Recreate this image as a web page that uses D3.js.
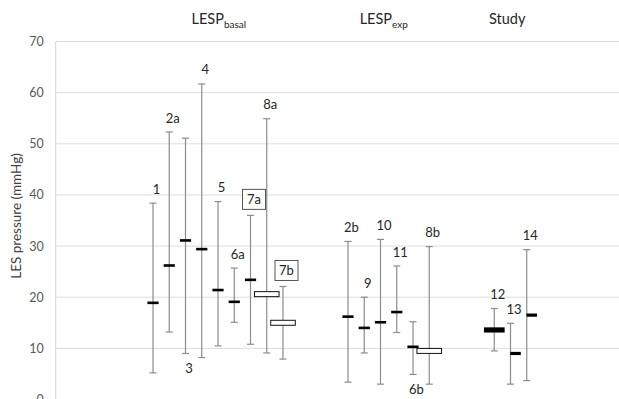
<!DOCTYPE html>
<html><head><meta charset="utf-8">
<script src="https://cdn.jsdelivr.net/npm/d3@7"></script>
<style>
body{margin:0;background:#fff;}
svg{display:block;font-family:Lato,"Open Sans",sans-serif;}
</style></head>
<body><svg id="chart" width="619" height="399"></svg>
<script>
// ---- data ----
const labels  = ["1","2a","3","4","5","6a","7a","8a","7b","2b","9","10","11","6b","8b","12","13","14"];
const slots   = [0,1,2,3,4,5,6,7,8,12,13,14,15,16,17,21,22,23];
const medians = [18.9,26.2,31.1,29.4,21.4,19.1,23.4,20.6,15.0,16.2,14.0,15.1,17.1,10.3,9.5,13.6,9.0,16.5];
const lows    = [5.2,13.2,9.0,8.2,10.5,15.1,10.8,9.1,7.9,3.4,9.1,3.0,13.1,4.9,3.0,9.5,3.0,3.7];
const highs   = [38.4,52.3,51.1,61.7,38.7,25.7,36.0,54.9,22.1,30.9,20.0,31.3,26.1,15.2,29.9,17.8,14.9,29.3];
const groups  = [{name:"LESP",sub:"basal",slot:4.05},{name:"LESP",sub:"exp",slot:14.2},{name:"Study",sub:"",slot:21.8}];
const yTicks  = [0,10,20,30,40,50,60,70];
const yTitle  = "LES pressure (mmHg)";

// ---- style lookups ----
const hollow = new Set(["8a","7b","8b"]);
const boxed  = new Set(["7a","7b"]);
const below  = new Set(["3","6b"]);
const wide   = new Set(["12"]);
const rightShift = new Set(["13","14"]);

const svg = d3.select("#chart");
const left = 55.7, right = 619;
const y = d3.scaleLinear().domain([0,70]).range([399.5,41.5]);
const x = d3.scaleLinear().domain([0,23]).range([153,526.75]);

// grid
svg.append("g").selectAll("line").data(yTicks).join("line")
  .attr("x1",left).attr("x2",right)
  .attr("y1",d=>y(d)).attr("y2",d=>y(d))
  .attr("stroke","#dcdcdc").attr("stroke-width",1);
svg.append("line").attr("x1",left).attr("x2",left).attr("y1",y(70)).attr("y2",y(0))
  .attr("stroke","#d4d4d4");

// y axis labels
const yAxis = d3.axisLeft(y).tickValues(yTicks).tickSize(0).tickPadding(12);
const ga = svg.append("g").attr("transform",`translate(${left},0)`).call(yAxis);
ga.select(".domain").remove();
ga.selectAll("text").attr("font-family","Lato,'Open Sans',sans-serif")
  .attr("font-size",12.5).attr("fill","#595959");

svg.append("text").attr("transform","translate(21,216) rotate(-90)")
  .attr("text-anchor","middle").attr("font-size",13.5).attr("fill","#404040").text(yTitle);

// group headers
groups.forEach(g=>{
  const t = svg.append("text").attr("x",x(g.slot)).attr("y",24)
    .attr("text-anchor","middle").attr("font-size",14.5).attr("fill","#262626");
  t.append("tspan").text(g.name);
  if(g.sub) t.append("tspan").attr("font-size",10).attr("dy",4).text(g.sub);
});

const data = labels.map((l,i)=>({label:l,slot:slots[i],med:medians[i],lo:lows[i],hi:highs[i]}));

const gBars = svg.append("g");
const gLabels = svg.append("g");
data.forEach(d=>{
  const cx = x(d.slot);
  const gw = gBars.append("g");
  gw.append("line").attr("x1",cx).attr("x2",cx).attr("y1",y(d.hi)).attr("y2",y(d.lo))
    .attr("stroke","#8c8c8c").attr("stroke-width",1.2);
  [d.hi,d.lo].forEach(v=>gw.append("line").attr("x1",cx-3.5).attr("x2",cx+3.5)
    .attr("y1",y(v)).attr("y2",y(v)).attr("stroke","#8c8c8c").attr("stroke-width",1.2));
  // median
  if(hollow.has(d.label)){
    gw.append("rect").attr("x",cx-12.3).attr("y",y(d.med)-2.5).attr("width",24.6).attr("height",5)
      .attr("fill","#fff").attr("stroke","#111").attr("stroke-width",1);
  } else if(wide.has(d.label)){
    gw.append("rect").attr("x",cx-10.3).attr("y",y(d.med)-2.6).attr("width",20.7).attr("height",5.2)
      .attr("fill","#000");
  } else if(rightShift.has(d.label)){
    gw.append("rect").attr("x",cx-0.2).attr("y",y(d.med)-1.6).attr("width",10.5).attr("height",3.2)
      .attr("fill","#000");
  } else {
    gw.append("rect").attr("x",cx-5.6).attr("y",y(d.med)-1.3).attr("width",11.2).attr("height",2.6)
      .attr("fill","#000");
  }
  // label
  const lx = cx+3.5;
  const ly = below.has(d.label) ? y(d.lo)+15 : y(d.hi)-(boxed.has(d.label)?16:14);
  const gl = gLabels.append("g");
  if(boxed.has(d.label)){
    gl.append("rect").attr("x",lx-11.5).attr("y",ly-10).attr("width",23).attr("height",20)
      .attr("fill","#fff").attr("stroke","#555").attr("stroke-width",1);
  }
  gl.append("text").attr("x",lx).attr("y",ly).attr("dy","0.35em")
    .attr("text-anchor","middle").attr("font-size",13).attr("fill","#262626").text(d.label);
});
</script></body></html>
